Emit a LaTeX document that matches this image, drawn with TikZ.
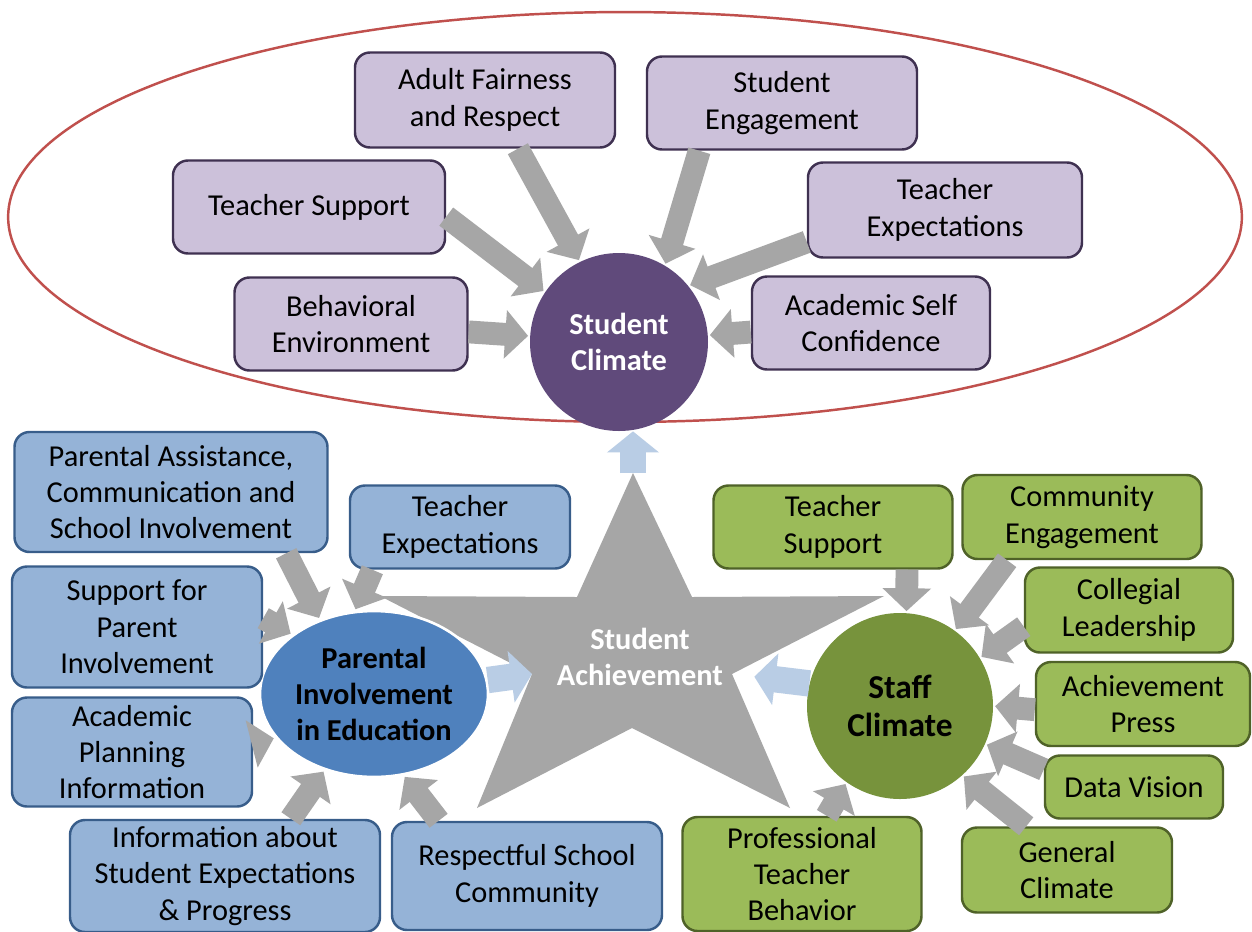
\documentclass[tikz,border=0pt]{standalone}
\usepackage{fontspec}
\setmainfont{Carlito}
\usetikzlibrary{arrows.meta,positioning,calc,shapes.geometric}
\usepackage{xcolor}

\definecolor{purplefill}{HTML}{CCC1DA}
\definecolor{purpleline}{HTML}{3F3151}
\definecolor{scfill}{HTML}{604A7B}
\definecolor{bluefill}{HTML}{95B3D7}
\definecolor{blueline}{HTML}{385D8A}
\definecolor{piefill}{HTML}{4F81BD}
\definecolor{greenfill}{HTML}{9BBB59}
\definecolor{greenline}{HTML}{4F6228}
\definecolor{stfill}{HTML}{77933C}
\definecolor{arrowgray}{HTML}{A6A6A6}
\definecolor{arrowblue}{HTML}{B9CDE5}
\definecolor{ringred}{HTML}{C0504D}

\begin{document}
\begin{tikzpicture}[x=0.02cm, y=-0.02cm,
    every node/.style={font=\fontsize{17.3}{20.7}\selectfont},
    box/.style={rectangle, rounded corners=0.3cm, line width=1.4pt, align=center, inner sep=2pt},
    pbox/.style={box, draw=purpleline, fill=purplefill},
    bbox/.style={box, draw=blueline, fill=bluefill},
    gbox/.style={box, draw=greenline, fill=greenfill},
    sz/.style 2 args={minimum width=#1*0.02cm, minimum height=#2*0.02cm},
    hub/.style={circle, align=center, inner sep=0pt, font=\fontsize{17.3}{20.7}\selectfont\bfseries},
    garrow/.style={draw=arrowgray, line width=13pt, shorten >=1pt, -{Triangle[length=13pt,width=27pt]}},
    barrow/.style={draw=arrowblue, line width=15pt, -{Triangle[length=12pt,width=29pt]}}
]
\path[use as bounding box, fill=white] (0,0) rectangle (1252,931);

% ring round the student climate group
\draw[ringred, line width=1.4pt] (625,217) ellipse [x radius=12.34cm, y radius=4.1cm];

% star
\coordinate (s0) at (633,473);
\coordinate (s1) at (692,597);
\coordinate (s2) at (884,596);
\coordinate (s3) at (732,674);
\coordinate (s4) at (790,808);
\coordinate (s5) at (632,728);
\coordinate (s6) at (477,808);
\coordinate (s7) at (532,674);
\coordinate (s8) at (380,596);
\coordinate (s9) at (577,597);
\fill[arrowgray] (s0) -- (s1) -- (s2) -- (s3) -- (s4) -- (s5) -- (s6) -- (s7) -- (s8) -- (s9) -- cycle;
\node[font=\fontsize{17.3}{20.7}\selectfont\bfseries, text=white, align=center] (sa) at (640,657) {Student\\Achievement};

% student climate
\node[hub, fill=scfill, text=white, minimum size=178*0.02cm] (sc) at (619,342) {Student\\Climate};
\node[pbox, sz={260}{95}] (afr) at (485,100) {Adult Fairness\\and Respect};
\node[pbox, sz={270}{93}] (se) at (782,103) {Student\\Engagement};
\node[pbox, sz={272}{93}] (tsp) at (309,207) {Teacher Support};
\node[pbox, sz={274}{95}] (tep) at (945,210) {Teacher\\Expectations};
\node[pbox, sz={233}{93}] (be) at (351,324) {Behavioral\\Environment};
\node[pbox, sz={238}{93}] (asc) at (871,323) {Academic Self\\Confidence};

% parental involvement
\node[hub, ellipse, fill=piefill, draw=white, line width=1.5pt, sz={228}{166}] (pie) at (374,694) {Parental\\Involvement\\in Education};
\node[bbox, sz={313}{120}] (pacsi) at (171,492) {Parental Assistance,\\Communication and\\School Involvement};
\node[bbox, sz={220}{83}] (teb) at (460,527) {Teacher\\Expectations};
\node[bbox, sz={250}{121}] (spi) at (137,627) {Support for\\Parent\\Involvement};
\node[bbox, sz={240}{109}] (api) at (132,752) {Academic\\Planning\\Information};
\node[bbox, sz={310}{112}] (ise) at (225,876) {Information about\\Student Expectations\\\& Progress};
\node[bbox, sz={270}{108}] (rsc) at (527,876) {Respectful School\\Community};

% staff climate
\node[hub, fill=stfill, minimum size=186*0.02cm, font=\fontsize{19}{22}\selectfont\bfseries] (stc) at (900,706) {Staff\\Climate};
\node[gbox, sz={239}{83}] (tsg) at (833,527) {Teacher\\Support};
\node[gbox, sz={239}{84}] (ce) at (1082,517) {Community\\Engagement};
\node[gbox, sz={208}{85}] (cl) at (1129,610) {Collegial\\Leadership};
\node[gbox, sz={214}{84}] (ap) at (1143,704) {Achievement\\Press};
\node[gbox, sz={178}{63}] (dv) at (1134,787) {Data Vision};
\node[gbox, sz={210}{85}] (gc) at (1067,870) {General\\Climate};
\node[gbox, sz={239}{114}] (ptb) at (802,874) {Professional\\Teacher\\Behavior};

% arrows into student climate
\draw[garrow] (afr.-56) -- (sc.116);
\draw[garrow] (se.-150) -- (sc.59);
\draw[garrow] (tsp.-4) -- (sc.146);
\draw[garrow] (tep.-167) -- (sc.39);
\draw[garrow] (be) -- (sc);
\draw[garrow] (asc) -- (sc);

% arrows into parental involvement
\draw[garrow] (pacsi.-28) -- (pie.126);
\draw[garrow] (teb.-154) -- (pie.103);
\draw[garrow] (spi.4) -- (pie.144);
\draw[garrow] (api.4) -- (pie.-156);
\draw[garrow] (ise.41) -- (pie.-123);
\draw[garrow] (rsc.148) -- (pie.-70);

% arrows into staff climate
\draw[garrow] (tsg.-30) -- (stc.86);
\draw[garrow] (ce.-150) -- (stc.54);
\draw[garrow] (cl.-171) -- (stc.31);
\draw[garrow] (ap.-177) -- (stc.0);
\draw[garrow] (dv.169) -- (stc.-24);
\draw[garrow] (gc.133) -- (stc.-48);
\draw[garrow] (ptb.67) -- (stc.-125);

% blue arrows round the star
\draw[barrow] (s0) -- (s0 |- sc.south);
\draw[barrow] (pie.7) -- (s7);
\draw[barrow, shorten >=0.45cm] (stc.166) -- (s3);
\end{tikzpicture}
\end{document}
